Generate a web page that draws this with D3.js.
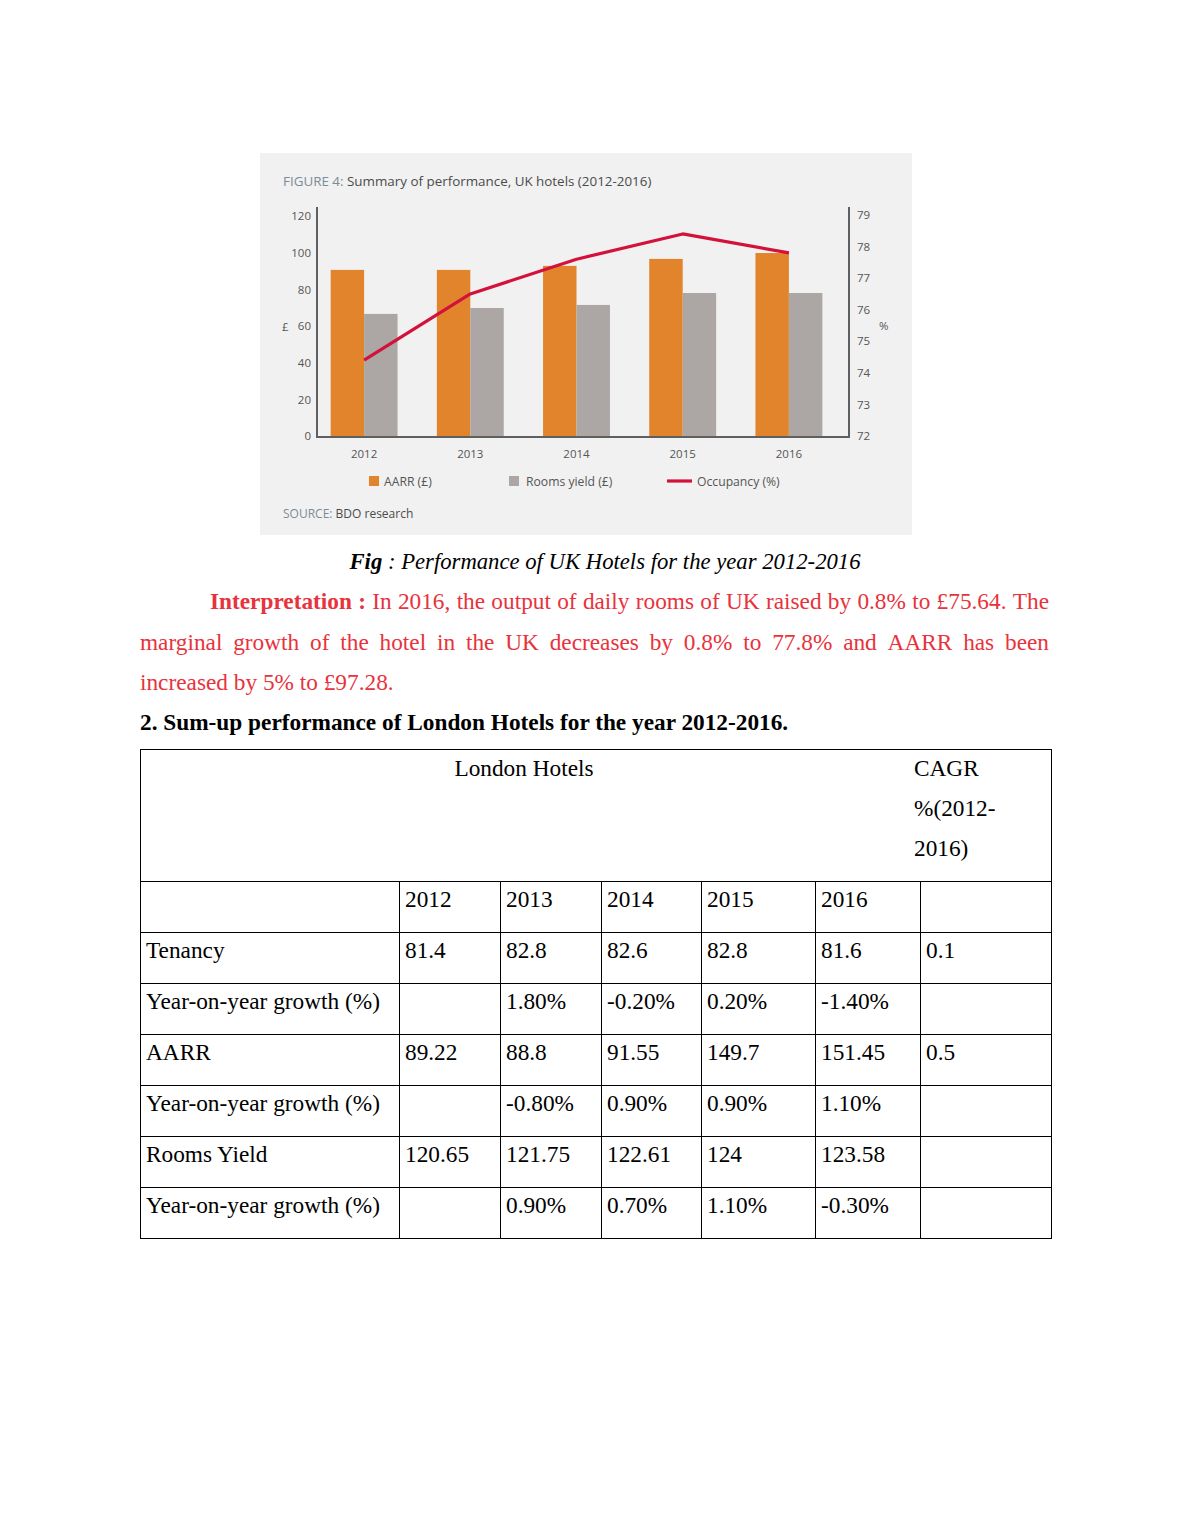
<!DOCTYPE html>
<html>
<head>
<meta charset="utf-8">
<script src="https://cdn.jsdelivr.net/npm/d3@7"></script>
<style>
  html, body { margin: 0; padding: 0; background: #fff; }
  svg { display: block; }
</style>
</head>
<body>
<script>
// ---------- DATA ----------
const years = ["2012", "2013", "2014", "2015", "2016"];
const aarr = [90.6, 90.6, 92.8, 96.6, 99.8];
const roomsYield = [66.6, 69.8, 71.5, 78.0, 78.0];
const occupancy = [74.4, 76.5, 77.6, 78.4, 77.8];
const leftTicks = [0, 20, 40, 60, 80, 100, 120];
const rightTicks = [72, 73, 74, 75, 76, 77, 78, 79];
const legendLabels = ["AARR (£)", "Rooms yield (£)", "Occupancy (%)"];

const tableYears = ["2012", "2013", "2014", "2015", "2016"];
const rowLabels = ["Tenancy", "Year-on-year growth (%)", "AARR", "Year-on-year growth (%)", "Rooms Yield", "Year-on-year growth (%)"];
const tenancy = ["81.4", "82.8", "82.6", "82.8", "81.6", "0.1"];
const tenancyGrowth = ["", "1.80%", "-0.20%", "0.20%", "-1.40%", ""];
const aarrLondon = ["89.22", "88.8", "91.55", "149.7", "151.45", "0.5"];
const aarrGrowth = ["", "-0.80%", "0.90%", "0.90%", "1.10%", ""];
const roomsYieldLondon = ["120.65", "121.75", "122.61", "124", "123.58", ""];
const roomsYieldGrowth = ["", "0.90%", "0.70%", "1.10%", "-0.30%", ""];

// ---------- SETUP ----------
const W = 1190, H = 1540;
const svg = d3.select("body").append("svg").attr("width", W).attr("height", H);
svg.append("rect").attr("width", W).attr("height", H).attr("fill", "#fff");

const sans = "'Open Sans', 'Noto Sans', sans-serif";
const serif = "'Liberation Serif', 'Times New Roman', serif";

// ---------- CHART ----------
const chart = svg.append("g");
chart.append("rect").attr("x", 260).attr("y", 153).attr("width", 652).attr("height", 382).attr("fill", "#f1f1f1");

const title = chart.append("text").attr("x", 283).attr("y", 186)
  .attr("font-family", sans).attr("font-size", 13.4);
title.append("tspan").attr("fill", "#7d8b99").text("FIGURE 4: ");
title.append("tspan").attr("fill", "#4b4b4b").text("Summary of performance, UK hotels (2012-2016)");

const x = d3.scaleBand().domain(years).range([311, 842]).paddingInner(0.37).paddingOuter(0.185);
const yL = d3.scaleLinear().domain([0, 120]).range([436, 216]);
const yR = d3.scaleLinear().domain([72, 79]).range([436, 215]);
const bw = x.bandwidth() / 2;

const colOrange = "#e2842b", colGray = "#aca7a4", colRed = "#d3123c";

chart.selectAll(".aarr").data(years).join("rect")
  .attr("x", d => x(d)).attr("width", bw)
  .attr("y", (d, i) => yL(aarr[i])).attr("height", (d, i) => yL(0) - yL(aarr[i]))
  .attr("fill", colOrange);
chart.selectAll(".ry").data(years).join("rect")
  .attr("x", d => x(d) + bw).attr("width", bw)
  .attr("y", (d, i) => yL(roomsYield[i])).attr("height", (d, i) => yL(0) - yL(roomsYield[i]))
  .attr("fill", colGray);

// axes lines
const axisCol = "#5f5f5f";
chart.append("line").attr("x1", 317).attr("x2", 317).attr("y1", 207).attr("y2", 437.5).attr("stroke", axisCol).attr("stroke-width", 2);
chart.append("line").attr("x1", 849).attr("x2", 849).attr("y1", 207).attr("y2", 437.5).attr("stroke", axisCol).attr("stroke-width", 2);
chart.append("line").attr("x1", 316).attr("x2", 850).attr("y1", 437).attr("y2", 437).attr("stroke", axisCol).attr("stroke-width", 2);

// occupancy line
const line = d3.line().x((d, i) => x(years[i]) + bw).y(d => yR(d));
chart.append("path").datum(occupancy).attr("d", line)
  .attr("fill", "none").attr("stroke", colRed).attr("stroke-width", 3.2).attr("stroke-linejoin", "round");

// left axis
const gl = chart.append("g").attr("transform", "translate(311,0)")
  .call(d3.axisLeft(yL).tickValues(leftTicks).tickSize(0).tickPadding(0));
gl.select(".domain").remove();
gl.selectAll("text").attr("font-family", sans).attr("font-size", 11.5).attr("fill", "#555");

// right axis
const gr = chart.append("g").attr("transform", "translate(857,0)")
  .call(d3.axisRight(yR).tickValues(rightTicks).tickFormat(d3.format("d")).tickSize(0).tickPadding(0));
gr.select(".domain").remove();
gr.selectAll("text").attr("font-family", sans).attr("font-size", 11.5).attr("fill", "#555");

// bottom axis
const gb = chart.append("g").attr("transform", "translate(0,450)")
  .call(d3.axisBottom(x).tickSize(0).tickPadding(0));
gb.select(".domain").remove();
gb.selectAll(".tick").attr("transform", d => `translate(${x(d) + bw},0)`);
gb.selectAll("text").attr("font-family", sans).attr("font-size", 11.5).attr("fill", "#555");

// unit labels
chart.append("text").attr("x", 282).attr("y", 331).attr("font-family", sans).attr("font-size", 11.5).attr("fill", "#555").text("£");
chart.append("text").attr("x", 879).attr("y", 330).attr("font-family", sans).attr("font-size", 11.5).attr("fill", "#555").text("%");

// legend
const lg = chart.append("g").attr("font-family", sans).attr("font-size", 12.2).attr("fill", "#555");
lg.append("rect").attr("x", 369).attr("y", 476).attr("width", 10).attr("height", 10).attr("fill", colOrange);
lg.append("text").attr("x", 384).attr("y", 486).text(legendLabels[0]);
lg.append("rect").attr("x", 509).attr("y", 476).attr("width", 10).attr("height", 10).attr("fill", colGray);
lg.append("text").attr("x", 526).attr("y", 486).text(legendLabels[1]);
lg.append("line").attr("x1", 667).attr("x2", 692).attr("y1", 481).attr("y2", 481).attr("stroke", colRed).attr("stroke-width", 3.2);
lg.append("text").attr("x", 697).attr("y", 486).text(legendLabels[2]);

const src = chart.append("text").attr("x", 283).attr("y", 518).attr("font-family", sans).attr("font-size", 12);
src.append("tspan").attr("fill", "#7d8b99").text("SOURCE: ");
src.append("tspan").attr("fill", "#4b4b4b").text("BDO research");

// ---------- DOCUMENT TEXT ----------
const fs = 23.3;
const cap = svg.append("text").attr("x", 605).attr("y", 569).attr("text-anchor", "middle")
  .attr("font-family", serif).attr("font-size", 22.7).attr("font-style", "italic").attr("fill", "#000");
cap.append("tspan").attr("font-weight", "bold").text("Fig");
cap.append("tspan").text(" : Performance of UK Hotels for the year 2012-2016");

const red = "#e8323c";
function justifyLine(words, x0, x1, yb, boldCount) {
  const g = svg.append("g").attr("font-family", serif).attr("font-size", fs).attr("fill", red);
  const nodes = words.map((w, i) => g.append("text").attr("y", yb)
    .attr("font-weight", i < boldCount ? "bold" : "normal").text(w));
  const widths = nodes.map(n => n.node().getComputedTextLength());
  const total = d3.sum(widths);
  const gap = (x1 - x0 - total) / (words.length - 1);
  let cx = x0;
  nodes.forEach((n, i) => { n.attr("x", cx); cx += widths[i] + gap; });
}
justifyLine("Interpretation : In 2016, the output of daily rooms of UK raised by 0.8% to £75.64. The".split(" "), 210, 1049, 609, 2);
justifyLine("marginal growth of the hotel in the UK decreases by 0.8% to 77.8% and AARR has been".split(" "), 140, 1049, 650, 0);
svg.append("text").attr("x", 140).attr("y", 690).attr("font-family", serif).attr("font-size", fs).attr("fill", red)
  .text("increased by 5% to £97.28.");

svg.append("text").attr("x", 140).attr("y", 730).attr("font-family", serif).attr("font-size", fs)
  .attr("font-weight", "bold").attr("fill", "#000")
  .text("2. Sum-up performance of London Hotels for the year 2012-2016.");

// ---------- TABLE ----------
const colX = [140, 399, 500, 601, 701, 815, 920, 1051];
const headTop = 749, headBot = 881, rowH = 51;
const tableRows = [
  ["", ...tableYears, ""],
  [rowLabels[0], ...tenancy],
  [rowLabels[1], ...tenancyGrowth],
  [rowLabels[2], ...aarrLondon],
  [rowLabels[3], ...aarrGrowth],
  [rowLabels[4], ...roomsYieldLondon],
  [rowLabels[5], ...roomsYieldGrowth]
];
const tb = svg.append("g").attr("font-family", serif).attr("font-size", fs).attr("fill", "#000");
const tableBottom = headBot + rowH * tableRows.length;
tb.append("rect").attr("x", colX[0] + 0.5).attr("y", headTop + 0.5)
  .attr("width", colX[7] - colX[0]).attr("height", tableBottom - headTop)
  .attr("fill", "none").attr("stroke", "#000").attr("stroke-width", 1);
tableRows.forEach((r, i) => {
  const yy = headBot + i * rowH + 0.5;
  tb.append("line").attr("x1", colX[0]).attr("x2", colX[7]).attr("y1", yy).attr("y2", yy).attr("stroke", "#000");
});
colX.slice(1, 7).forEach(cx => {
  tb.append("line").attr("x1", cx + 0.5).attr("x2", cx + 0.5).attr("y1", headBot).attr("y2", tableBottom).attr("stroke", "#000");
});
tb.append("text").attr("x", 524).attr("y", 776).attr("text-anchor", "middle").text("London Hotels");
["CAGR", "%(2012-", "2016)"].forEach((t, i) => {
  tb.append("text").attr("x", 914).attr("y", 776 + i * 40).text(t);
});
tableRows.forEach((r, ri) => {
  r.forEach((c, ci) => {
    if (!c) return;
    tb.append("text").attr("x", colX[ci] + 6).attr("y", headBot + ri * rowH + 26).text(c);
  });
});
</script>
</body>
</html>
